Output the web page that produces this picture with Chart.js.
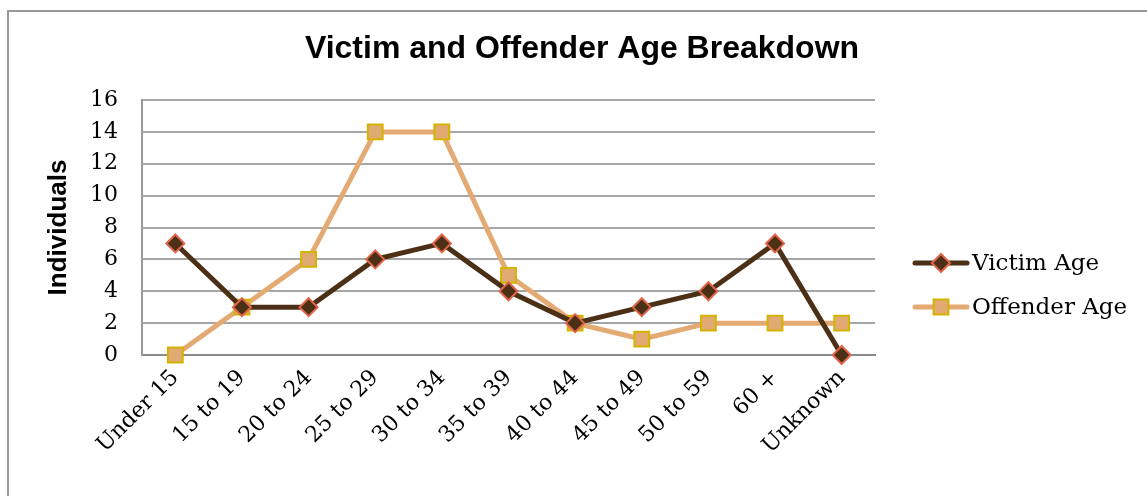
<!DOCTYPE html>
<html>
<head>
<meta charset="utf-8">
<script src="https://cdn.jsdelivr.net/npm/chart.js@4"></script>
<style>
  html, body { margin: 0; padding: 0; background: #fff; overflow: hidden; }
  #wrap { position: relative; width: 1147px; height: 496px; }
  #frame { position: absolute; left: 7px; top: 10px; width: 1200px; height: 600px;
           border-left: 2px solid #999; border-top: 2px solid #999; }
  canvas { position: absolute; left: 0; top: 0; }
</style>
</head>
<body>
<div id="wrap">
  <div id="frame"></div>
  <canvas id="chart" width="1147" height="496"></canvas>
</div>
<script>
// chart values
var ageGroups = ['Under 15', '15 to 19', '20 to 24', '25 to 29', '30 to 34', '35 to 39',
                 '40 to 44', '45 to 49', '50 to 59', '60 +', 'Unknown'];
var victimAge = [7, 3, 3, 6, 7, 4, 2, 3, 4, 7, 0];
var offenderAge = [0, 3, 6, 14, 14, 5, 2, 1, 2, 2, 2];
var yTicks = [0, 2, 4, 6, 8, 10, 12, 14, 16];
var chartTitle = 'Victim and Offender Age Breakdown';

var serif = '"DejaVu Serif", "Liberation Serif", serif';
var sans = '"Liberation Sans", Arial, sans-serif';

// title centred on the whole canvas, legend on the right
var sideLegend = {
    id: 'sideLegend',
    afterDraw: function(chart) {
        var ctx = chart.ctx;
        ctx.save();
        ctx.fillStyle = '#000';
        ctx.font = 'bold 32px ' + sans;
        ctx.textAlign = 'center';
        ctx.textBaseline = 'middle';
        ctx.fillText(chartTitle, 582, 49);
        ctx.restore();

        var x0 = 915, x1 = 967, rowY = [263, 307];
        chart.data.datasets.forEach(function(ds, i) {
            var y = rowY[i];
            ctx.save();
            ctx.strokeStyle = ds.borderColor;
            ctx.lineWidth = ds.borderWidth;
            ctx.lineCap = 'round';
            ctx.beginPath();
            ctx.moveTo(x0, y);
            ctx.lineTo(x1, y);
            ctx.stroke();
            ctx.fillStyle = ds.pointBackgroundColor;
            ctx.strokeStyle = ds.pointBorderColor;
            ctx.lineWidth = ds.pointBorderWidth;
            Chart.helpers.drawPoint(ctx, {
                pointStyle: ds.pointStyle,
                radius: ds.pointRadius,
                borderWidth: ds.pointBorderWidth
            }, (x0 + x1) / 2, y);
            ctx.fillStyle = '#000';
            ctx.font = '23px ' + serif;
            ctx.textBaseline = 'middle';
            ctx.fillText(ds.label, x1 + 5, y + 1);
            ctx.restore();
        });
    }
};

var ctx = document.getElementById('chart').getContext('2d');
var ageChart = new Chart(ctx, {
    type: 'line',
    data: {
        labels: ageGroups,
        datasets: [{
            label: 'Victim Age',
            data: victimAge,
            borderColor: '#4b3016',
            borderWidth: 5,
            pointStyle: 'rectRot',
            pointRadius: 9,
            pointBackgroundColor: '#4b3016',
            pointBorderColor: '#e0654a',
            pointBorderWidth: 2,
            tension: 0,
            clip: false
        }, {
            label: 'Offender Age',
            data: offenderAge,
            borderColor: '#e3aa73',
            borderWidth: 5,
            pointStyle: 'rect',
            pointRadius: 10.5,
            pointBackgroundColor: '#e0aa72',
            pointBorderColor: '#d4b400',
            pointBorderWidth: 2,
            tension: 0,
            clip: false
        }]
    },
    options: {
        responsive: false,
        animation: false,
        layout: { padding: { left: 0, right: 272, top: 100, bottom: 0 } },
        plugins: {
            legend: { display: false },
            tooltip: { enabled: false },
            title: { display: false }
        },
        scales: {
            x: {
                offset: true,
                afterFit: function(scale) { scale.height = 141; },
                grid: { display: false, drawTicks: false },
                border: { color: '#8a8a8a', width: 2 },
                ticks: {
                    color: '#000',
                    font: { family: serif, size: 22 },
                    minRotation: 45,
                    maxRotation: 45,
                    padding: 10
                }
            },
            y: {
                min: 0,
                max: 16,
                afterFit: function(scale) { scale.width = 142; },
                afterBuildTicks: function(scale) {
                    scale.ticks = yTicks.map(function(v) { return { value: v }; });
                },
                grid: { color: '#a6a6a6', lineWidth: 2, drawTicks: false },
                border: { color: '#999', width: 2 },
                ticks: {
                    color: '#000',
                    font: { family: serif, size: 22 },
                    padding: 24
                },
                title: {
                    display: true,
                    text: 'Individuals',
                    color: '#000',
                    font: { family: sans, size: 26, weight: 'bold' },
                    padding: { top: 43 }
                }
            }
        }
    },
    plugins: [sideLegend]
});
</script>
</body>
</html>
